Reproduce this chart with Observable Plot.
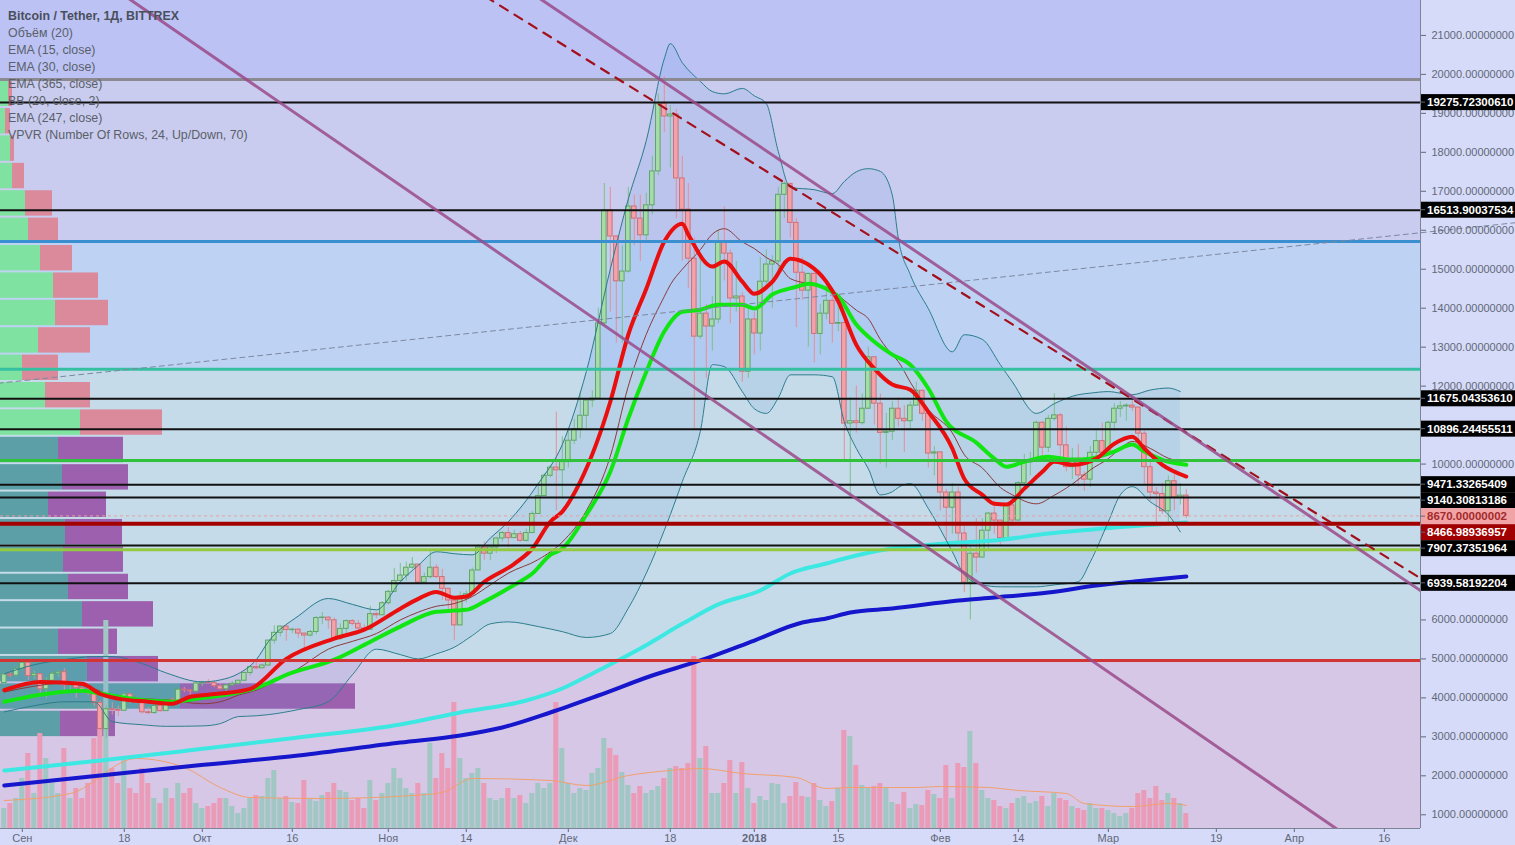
<!DOCTYPE html>
<html><head><meta charset="utf-8">
<script src="https://cdn.jsdelivr.net/npm/d3@7"></script>
<script src="https://cdn.jsdelivr.net/npm/@observablehq/plot@0.6"></script>
<style>
html,body{margin:0;padding:0;background:#d5dbf8;}
#wrap{position:relative;width:1515px;height:845px;overflow:hidden;background:#d5dbf8;}
#wrap svg{position:absolute;left:0;top:0;}
#legend{position:absolute;left:8px;top:8px;font-family:"Liberation Sans",Arial,sans-serif;font-size:12.4px;line-height:17px;color:#5a5f6a;white-space:nowrap;}
#legend .t{font-weight:bold;color:#4a4f5c;}
</style></head><body><div id="wrap"></div>
<script>
// ---------- DATA ----------
const legendTitle = "Bitcoin / Tether, 1Д, BITTREX";
const legendItems = ["Объём (20)","EMA (15, close)","EMA (30, close)","EMA (365, close)","BB (20, close, 2)","EMA (247, close)","VPVR (Number Of Rows, 24, Up/Down, 70)"];

const candleStart = "2017-08-29";
const firstOpen = 4380;
const closes = [4600,4570,4740,
4900,4560,4610,4220,4440,4620,4660,4320,4340,4250,4200,4110,3870,3200,3710,3690,3670,4090,3920,3880,3630,3610,3790,3660,3950,3890,4210,4190,4160,4370,
4400,4380,4300,4220,4320,4360,4440,4640,4790,4760,4830,5470,5670,5830,5740,5750,5650,5600,5690,6050,6060,5990,5520,5770,5970,5900,5780,5750,6150,6120,6430,
6720,7000,7140,7340,7420,6960,7100,7340,7100,6800,6500,5860,6550,6660,7270,7860,7700,7860,8090,8230,8100,8200,8030,8230,8720,9180,9700,9910,9840,10050,
10600,10900,11240,11630,11680,13610,16510,15840,14690,14940,16610,16300,15870,16640,17510,19250,18920,18970,17330,16530,15270,13270,13860,13530,13710,15710,15400,14250,14300,12370,13710,
13350,14680,15120,15200,16910,17190,16190,14910,14450,14880,13340,13860,14190,13600,13620,11040,11100,11050,11420,12740,11550,10800,10830,11420,11160,11100,11500,11880,11290,10270,10300,
9270,8880,9270,8220,6960,7700,7600,8290,8730,8550,8100,8940,8550,9510,10040,10100,11060,10420,11160,11250,10480,9920,10140,9710,9600,10290,10590,10290,
11060,11420,11480,11500,11450,10780,9920,9270,9230,8790,9560,9140,9190,8670];
const highs = [4640,4650,4760,
4960,4930,4690,4610,4520,4650,4700,4750,4390,4340,4330,4350,4130,3920,3800,3880,3790,4120,4100,4010,3900,3750,3820,3790,3970,3990,4230,4270,4210,4380,
4420,4470,4430,4340,4360,4420,4460,4650,4810,4920,4870,5480,5850,5850,5850,5790,5780,5660,5730,6080,6190,6080,6050,5900,6000,6010,5990,5870,6350,6200,6470,
6760,7320,7450,7480,7600,7420,7200,7800,7420,7300,6800,6500,6720,6740,7330,7930,8000,7880,8120,8270,8370,8300,8270,8330,8780,9520,9750,9970,11330,10700,
10900,11150,11850,11650,11880,14000,17200,17100,15850,15600,17100,16900,16900,16950,17900,19500,19950,19200,19100,17900,17200,15800,15300,14100,14300,16000,16600,15500,15200,14400,14000,
13900,15300,15500,15350,17100,17250,17200,16300,15300,14900,14900,14100,14600,14400,14300,13700,11700,12000,11800,13000,12750,11800,11300,11600,11700,11500,11600,12100,11900,11300,10450,
10300,9350,9500,9400,8400,7900,8600,8600,8750,9050,8550,8990,8950,9550,10250,10300,11100,11100,11250,11800,11300,10950,10400,10500,9800,10450,10850,11050,
11100,11550,11600,11550,11700,11450,10850,10050,9400,9500,9700,9800,9500,9350];
const lows = [4330,4520,4560,
4700,4450,4480,4100,3980,4420,4530,4150,4200,3980,4120,4060,3780,3150,2960,3560,3520,3660,3850,3850,3580,3560,3580,3630,3650,3860,3880,4130,4030,4150,
4290,4370,4260,4200,4150,4310,4330,4430,4560,4720,4750,4820,5380,5570,5450,5650,5530,5200,5560,5620,5880,5760,5460,5470,5600,5850,5750,5700,5730,6030,6110,
6380,6700,7000,7000,7300,6940,6960,7050,7060,6500,6250,5470,5850,6440,6650,7260,7530,7520,7700,8000,7850,8090,8000,8000,8210,8730,9180,9650,8800,9100,
9900,10500,10650,10900,11450,11670,13550,13900,13100,13100,14900,15600,15200,15700,16400,17400,18500,17600,16300,15200,14500,10900,13200,12200,12900,13600,14700,13600,13900,12100,12200,
12800,12900,14500,14000,14900,16300,15800,13500,14200,13000,12600,12800,13700,13100,13400,10100,9200,10800,11000,11400,11000,10000,9900,10600,10950,10300,10900,11500,11100,9900,9700,
8800,7900,8200,7950,6700,6000,7200,7600,7800,8200,7900,8100,8400,8550,9400,9700,10050,10150,10300,11100,10200,9800,9600,9400,9300,9400,10150,10250,
10250,10850,11200,11100,11350,10600,9450,9050,8400,8700,8500,8800,8950,8600];
const volumes = [20,25,30,
50,75,35,95,70,45,35,80,30,40,30,45,90,100,208,60,45,70,40,35,60,45,30,25,40,30,45,35,40,25,
20,22,25,30,30,22,15,20,30,33,32,50,58,30,32,26,25,48,30,27,33,36,45,38,36,28,30,20,48,28,35,
45,60,50,40,35,45,35,85,50,75,60,126,70,50,55,60,45,30,28,30,40,30,33,25,35,45,40,45,126,80,
45,35,40,38,55,60,90,80,73,56,43,35,42,35,38,42,50,60,62,60,65,172,70,82,35,35,45,68,35,66,40,
25,32,28,45,44,25,32,46,32,31,45,28,22,27,40,98,92,63,43,40,42,45,40,26,24,36,20,24,23,38,34,
30,63,30,65,61,97,65,38,30,28,22,20,25,30,32,25,27,32,22,35,30,28,22,20,18,25,20,20,
18,15,12,15,20,35,38,30,42,28,35,30,25,15];

const volMaDates = ["2017-08-29","2017-09-09","2017-09-20","2017-09-28","2017-10-04","2017-10-09","2017-10-21","2017-11-05","2017-11-10","2017-11-15","2017-11-28","2017-12-04","2017-12-11","2017-12-18","2017-12-23","2017-12-30","2018-01-08","2018-01-13","2018-01-17","2018-01-28","2018-02-01","2018-02-09","2018-02-14","2018-02-22","2018-02-25","2018-03-05","2018-03-11","2018-03-14"];
const volMaValues = [28,35,70,61,41,31,30,33,36,50,48,43,53,58,60,55,51,40,41,41,42,41,38,35,25,22,25,23];

const ema15Dates = ["2017-08-29","2017-09-04","2017-09-11","2017-09-14","2017-09-17","2017-09-22","2017-09-26","2017-09-29","2017-10-04","2017-10-09","2017-10-15","2017-10-23","2017-10-28","2017-11-03","2017-11-06","2017-11-09","2017-11-12","2017-11-14","2017-11-17","2017-11-22","2017-11-25","2017-11-28","2017-11-30","2017-12-03","2017-12-08","2017-12-11","2017-12-14","2017-12-17","2017-12-20","2017-12-21","2017-12-25","2017-12-27","2017-12-30","2018-01-01","2018-01-04","2018-01-07","2018-01-10","2018-01-13","2018-01-15","2018-01-18","2018-01-21","2018-01-24","2018-01-27","2018-01-30","2018-02-03","2018-02-05","2018-02-08","2018-02-10","2018-02-12","2018-02-15","2018-02-18","2018-02-20","2018-02-23","2018-02-27","2018-03-02","2018-03-05","2018-03-07","2018-03-10","2018-03-14"];
const ema15Values = [4200,4410,4360,4100,3980,3900,3850,4030,4110,4230,5000,5520,5750,6290,6540,6720,6570,6600,6980,7440,7830,8520,8780,9550,11600,13320,14500,15710,16170,15890,15070,15200,14680,14370,14680,15270,15120,14680,14170,13060,12450,12040,11910,11340,10400,9620,9210,8980,8960,9370,9800,10060,9980,10140,10520,10700,10400,9980,9680];

const ema30Dates = ["2017-08-29","2017-09-04","2017-09-11","2017-09-14","2017-09-17","2017-09-22","2017-09-26","2017-09-30","2017-10-05","2017-10-09","2017-10-12","2017-10-15","2017-10-23","2017-10-28","2017-11-03","2017-11-09","2017-11-12","2017-11-14","2017-11-17","2017-11-22","2017-11-25","2017-11-28","2017-11-30","2017-12-04","2017-12-08","2017-12-11","2017-12-14","2017-12-17","2017-12-20","2017-12-23","2017-12-26","2017-12-30","2018-01-01","2018-01-04","2018-01-08","2018-01-10","2018-01-13","2018-01-15","2018-01-18","2018-01-21","2018-01-24","2018-01-27","2018-01-30","2018-02-02","2018-02-07","2018-02-10","2018-02-12","2018-02-15","2018-02-19","2018-02-23","2018-02-26","2018-03-02","2018-03-05","2018-03-07","2018-03-10","2018-03-14"];
const ema30Values = [3900,4080,4180,4110,4030,3930,3900,3980,4080,4210,4380,4590,4980,5360,5830,6210,6240,6260,6470,6900,7190,7670,7830,8700,9800,11170,12370,13400,13910,13960,14090,14090,13990,14350,14550,14630,14500,14300,13580,13140,12810,12550,11940,11090,10550,10140,9930,10060,10190,10110,10140,10320,10500,10320,10110,9980];

const ema365Dates = ["2017-08-29","2017-09-14","2017-09-30","2017-10-17","2017-11-03","2017-11-13","2017-11-24","2017-11-30","2017-12-06","2017-12-13","2017-12-20","2017-12-26","2018-01-02","2018-01-07","2018-01-13","2018-01-18","2018-01-24","2018-01-29","2018-02-04","2018-02-10","2018-02-19","2018-03-02","2018-03-14"];
const ema365Values = [2136,2393,2675,2983,3317,3625,3933,4241,4703,5267,5900,6400,6756,7192,7448,7654,7833,7910,7987,8039,8218,8372,8501];

const ema247Dates = ["2017-08-29","2017-09-14","2017-09-30","2017-10-17","2017-11-03","2017-11-13","2017-11-20","2017-11-28","2017-12-06","2017-12-15","2017-12-23","2018-01-01","2018-01-09","2018-01-13","2018-01-17","2018-01-24","2018-02-04","2018-02-10","2018-02-19","2018-02-27","2018-03-07","2018-03-14"];
const ema247Values = [1751,2008,2265,2521,2855,3035,3240,3625,4061,4574,4960,5472,5934,6037,6191,6294,6499,6576,6704,6884,7012,7115];

const bbDates = ["2017-08-29","2017-09-03","2017-09-08","2017-09-13","2017-09-16","2017-09-21","2017-09-25","2017-10-01","2017-10-04","2017-10-07","2017-10-10","2017-10-12","2017-10-17","2017-10-22","2017-10-26","2017-10-30","2017-11-03","2017-11-06","2017-11-09","2017-11-12","2017-11-15","2017-11-18","2017-11-21","2017-11-26","2017-11-30","2017-12-04","2017-12-08","2017-12-11","2017-12-14","2017-12-17","2017-12-18","2017-12-20","2017-12-23","2017-12-25","2017-12-27","2017-12-30","2018-01-01","2018-01-03","2018-01-05","2018-01-07","2018-01-11","2018-01-14","2018-01-16","2018-01-18","2018-01-20","2018-01-22","2018-01-24","2018-01-25","2018-01-27","2018-01-30","2018-02-03","2018-02-05","2018-02-08","2018-02-11","2018-02-13","2018-02-17","2018-02-20","2018-02-24","2018-02-26","2018-03-01","2018-03-03","2018-03-05","2018-03-08","2018-03-11","2018-03-13"];
const bbUpper = [4620,4850,4980,5060,5060,4880,4640,4410,4460,4620,4980,5440,6100,6550,6400,6260,6980,7400,7750,7700,7670,8100,8520,9500,10500,12370,15000,16800,18300,20400,20790,20300,19820,19560,19500,19640,19450,19250,18020,17100,17040,16940,17250,17500,17580,17510,16900,15790,14860,13990,12880,13320,13200,12550,12110,11300,11550,11780,11820,11860,11820,11780,11900,11950,11860];
const bbBasis = [4150,4300,4380,4230,4050,3980,3950,3850,3900,4070,4200,4340,4750,5250,5450,5650,6000,6200,6350,6420,6600,6900,7200,7550,8000,8800,10200,12000,13330,14300,14600,15000,15500,15900,16040,15700,15530,15300,15120,14760,14600,14450,14200,13950,13730,13200,12800,12630,12100,11400,10800,10240,9900,9400,9210,8980,9200,9600,9850,10140,10400,10580,10400,10150,10060];
const bbLower = [3640,3800,3900,3900,3390,3310,3270,3280,3340,3520,3540,3570,3700,3900,4590,5250,5110,5000,5130,5300,5600,5900,5950,5830,5700,5550,5650,6300,7200,8300,8700,9550,10840,12550,12500,11860,11420,11300,11700,12290,12290,12240,11090,10400,9880,9210,9290,9400,9500,8860,7750,7160,6900,6850,6850,6850,6900,6980,7490,8520,9210,9420,9030,8700,8260];

// VPVR: 24 rows from bottom to top
const vpvrLow = 2980, vpvrHigh = 19852, vpvrRows = 24, vpvrValueAreaRows = 11;
const vpvrUp =   [60,180,87,58,82,68,63,65,48,62,58,80,45,22,38,55,53,40,28,25,12,10,5,8];
const vpvrDown = [55,175,71,59,71,60,60,57,58,66,65,82,45,36,52,53,45,32,30,27,12,4,5,4];

// colored background zones (price bounds)
const zoneLow =   [648, 4960, 12430, 15712, 19868];
const zoneHigh =  [4960, 12430, 15712, 19868, 21896];
const zoneColor = ["#d6c7e6", "#c5dbe9", "#bed3f4", "#c9ccee", "#bcc3f4"];

// horizontal drawings
const hlineValues = [19868, 19275.72300610, 16513.90037534, 15712, 12430, 11675.04353610, 10896.24455511, 10090, 9471.33265409, 9140.30813186, 8466.98936957, 7907.37351964, 7800, 6939.58192204, 4960];
const hlineColors = ["#8a8a90","#111111","#111111","#3a8fd0","#36c0a2","#111111","#111111","#2fc23a","#111111","#111111","#a30000","#111111","#93c940","#111111","#d23434"];
const hlineWidths = [3,2,2,3,3,2,2,3,2,2,4,2,3,2,3];
const currentPrice = 8670.00000002;

// price labels on the right scale
const labelValues = [19275.72300610, 16513.90037534, 11675.04353610, 10896.24455511, 9471.33265409, 9140.30813186, 8670.00000002, 8466.98936957, 7907.37351964, 6939.58192204];
const labelTexts = ["19275.72300610","16513.90037534","11675.04353610","10896.24455511","9471.33265409","9140.30813186","8670.00000002","8466.98936957","7907.37351964","6939.58192204"];
const labelBoxColors = ["#000","#000","#000","#000","#000","#000","#f2a3a6","#a00000","#000","#000"];
const labelTextColors = ["#fff","#fff","#fff","#fff","#fff","#fff","#a32a2a","#fff","#fff","#fff"];

// diagonal drawings (two anchor points each)
const channelLowerDates = ["2017-09-18","2018-04-12"], channelLowerValues = [22023, 221];
const channelUpperDates = ["2017-11-20","2018-04-25"], channelUpperValues = [22592, 6446];
const trendDashDates = ["2017-11-10","2018-04-25"], trendDashValues = [22687, 6785];
const grayDashDates = ["2017-08-25","2018-05-08"], grayDashValues = [12025, 16196];

// axes
const yTicks = [1000,2000,3000,4000,5000,6000,7000,8000,9000,10000,11000,12000,13000,14000,15000,16000,17000,18000,19000,20000,21000];
const xTickDates = ["2017-09-01","2017-09-18","2017-10-01","2017-10-16","2017-11-01","2017-11-14","2017-12-01","2017-12-18","2018-01-01","2018-01-15","2018-02-01","2018-02-14","2018-03-01","2018-03-19","2018-04-01","2018-04-16"];
const xTickLabels = ["Сен","18","Окт","16","Ноя","14","Дек","18","2018","15","Фев","14","Мар","19","Апр","16"];

// ---------- BUILD ----------
const DAY = 864e5;
const t0 = new Date(candleStart).getTime();
const candles = closes.map((c, i) => {
  const o = i === 0 ? firstOpen : closes[i - 1];
  return {date: new Date(t0 + i * DAY), open: o, close: c, high: highs[i], low: lows[i], vol: volumes[i], up: c >= o};
});
const series = (ds, vs) => ds.map((d, i) => ({date: new Date(d), v: vs[i]}));
const bb = bbDates.map((d, i) => ({date: new Date(d), upper: bbUpper[i], basis: bbBasis[i], lower: bbLower[i]}));
const zones = zoneLow.map((l, i) => ({lo: l, hi: zoneHigh[i], color: zoneColor[i]}));
const hlines = hlineValues.map((v, i) => ({v, color: hlineColors[i], w: hlineWidths[i]}));
const vpStep = (vpvrHigh - vpvrLow) / vpvrRows;
const vp = vpvrUp.map((u, i) => ({lo: vpvrLow + i * vpStep, hi: vpvrLow + (i + 1) * vpStep, up: u, down: vpvrDown[i], va: i < vpvrValueAreaRows}));
const xTicks = xTickDates.map(d => new Date(d));
const xLabelMap = new Map(xTicks.map((d, i) => [+d, xTickLabels[i]]));

const xStart = new Date(Date.UTC(2017, 7, 28, 8, 48));
const xEnd = new Date(Date.UTC(2018, 3, 22, 0, 43));
const yDomain = [648, 21896];
const plotFrame = {width: 1515, height: 845, marginLeft: 0, marginRight: 95, marginTop: 0, marginBottom: 17,
  style: {background: "transparent", fontFamily: "Liberation Sans, Arial, sans-serif", fontSize: "11px", overflow: "visible"}};
const X = {type: "utc", domain: [xStart, xEnd], axis: null};
const Y = {domain: yDomain, axis: null};
const C = {type: "identity"};
const wrapEl = document.getElementById("wrap");

// layer 1: background zones
wrapEl.append(Plot.plot({...plotFrame, x: X, y: Y, color: C, marks: [
  Plot.rect(zones, {x1: () => xStart, x2: () => xEnd, y1: "lo", y2: "hi", fill: "color"})
]}));

// layer 2: VPVR
wrapEl.append(Plot.plot({...plotFrame, x: {domain: [0, 1420], axis: null}, y: Y, color: C, marks: [
  Plot.rect(vp, {x1: 0, x2: "up", y1: "lo", y2: "hi", insetTop: 1, insetBottom: 1, fill: d => d.va ? "#5c9fa7" : "#7fe2a1"}),
  Plot.rect(vp, {x1: "up", x2: d => d.up + d.down, y1: "lo", y2: "hi", insetTop: 1, insetBottom: 1, fill: d => d.va ? "#9d60ae" : "#db8a9c"})
]}));

// layer 3: volume
wrapEl.append(Plot.plot({...plotFrame, x: X, y: {domain: [0, 828], axis: null}, color: C, marks: [
  Plot.rect(candles, {x1: d => new Date(+d.date - 0.42 * DAY), x2: d => new Date(+d.date + 0.42 * DAY), y1: 0, y2: "vol",
    fill: d => d.up ? "#a0c7c3" : "#e99bb7"}),
  Plot.line(series(volMaDates, volMaValues), {x: "date", y: "v", stroke: "#f2a06c", strokeWidth: 1, curve: "monotone-x"})
]}));

// layer 4: price
const priceSvg = Plot.plot({...plotFrame, x: X, y: Y, color: C, marks: [
  Plot.areaY(bb, {x: "date", y1: "lower", y2: "upper", fill: "#5d8fe0", fillOpacity: 0.13, curve: "monotone-x"}),
  Plot.ruleX(candles, {x: "date", y1: "low", y2: "high", stroke: d => d.up ? "#7cc08a" : "#e58f98", strokeWidth: 1}),
  Plot.rect(candles, {x1: d => new Date(+d.date - 0.38 * DAY), x2: d => new Date(+d.date + 0.38 * DAY), y1: "open", y2: "close",
    fill: d => d.up ? "#a6dca8" : "#f2a2a8", stroke: d => d.up ? "#5fa56a" : "#d0707a", strokeWidth: 1}),
  Plot.line(series(ema247Dates, ema247Values), {x: "date", y: "v", stroke: "#1616cc", strokeWidth: 4, curve: "monotone-x"}),
  Plot.line(series(ema365Dates, ema365Values), {x: "date", y: "v", stroke: "#3de8e2", strokeWidth: 4, curve: "monotone-x"}),
  Plot.line(bb, {x: "date", y: "upper", stroke: "#2b7d8c", strokeWidth: 1, curve: "monotone-x"}),
  Plot.line(bb, {x: "date", y: "lower", stroke: "#2b7d8c", strokeWidth: 1, curve: "monotone-x"}),
  Plot.line(bb, {x: "date", y: "basis", stroke: "#8a3b3b", strokeWidth: 1, curve: "monotone-x"}),
  Plot.line(series(ema30Dates, ema30Values), {x: "date", y: "v", stroke: "#12e612", strokeWidth: 4, curve: "monotone-x"}),
  Plot.line(series(ema15Dates, ema15Values), {x: "date", y: "v", stroke: "#ea0f0f", strokeWidth: 4, curve: "monotone-x"}),
  Plot.ruleY(hlines, {y: "v", stroke: "color", strokeWidth: "w"}),
  Plot.ruleY([currentPrice], {stroke: "#e8a0a0", strokeWidth: 1, strokeDasharray: "3,3"}),
  Plot.line(series(grayDashDates, grayDashValues), {x: "date", y: "v", stroke: "#7c88a0", strokeWidth: 1, strokeDasharray: "5,4"}),
  Plot.line(series(trendDashDates, trendDashValues), {x: "date", y: "v", stroke: "#a3101c", strokeWidth: 2.2, strokeDasharray: "9,8", clip: true}),
  Plot.line(series(channelLowerDates, channelLowerValues), {x: "date", y: "v", stroke: "#9a4a8a", strokeOpacity: 0.85, strokeWidth: 3, clip: true}),
  Plot.line(series(channelUpperDates, channelUpperValues), {x: "date", y: "v", stroke: "#9a4a8a", strokeOpacity: 0.85, strokeWidth: 3, clip: true}),
  Plot.axisY({ticks: yTicks, anchor: "right", tickSize: 5, tickPadding: 6, tickFormat: d => d.toFixed(8), color: "#636878", fontSize: 11}),
  Plot.axisX({ticks: xTicks, anchor: "bottom", tickSize: 4, tickPadding: 2, tickFormat: d => xLabelMap.get(+d), color: "#636878", fontSize: 11})
]});
wrapEl.append(priceSvg);

// post: borders, bold year, price labels
const sel = d3.select(priceSvg);
sel.selectAll("text").filter(function() { return this.textContent === "2018"; }).attr("font-weight", "bold");
sel.append("line").attr("x1", 1420.5).attr("x2", 1420.5).attr("y1", 0).attr("y2", 828).attr("stroke", "#7d8396");
sel.append("line").attr("x1", 0).attr("x2", 1420).attr("y1", 828.5).attr("y2", 828.5).attr("stroke", "#7d8396");
const yScale = priceSvg.scale("y");
const labs = labelValues.map((v, i) => ({y: yScale.apply(v), t: labelTexts[i], box: labelBoxColors[i], col: labelTextColors[i]})).sort((a, b) => a.y - b.y);
for (let i = 1; i < labs.length; i++) if (labs[i].y < labs[i - 1].y + 16) labs[i].y = labs[i - 1].y + 16;
// hide scale tick texts that sit under a price label box (as the reference does)
sel.selectAll("text").filter(function() {
  const t = this.textContent;
  if (!/^\d+\.0{8}$/.test(t)) return false;
  const ty = yScale.apply(parseFloat(t));
  return labs.some(l => Math.abs(l.y - ty) < 8);
}).remove();
const labG = sel.append("g").attr("text-anchor", "start");
for (const l of labs) {
  labG.append("rect").attr("x", 1421).attr("y", l.y - 8).attr("width", 94).attr("height", 16).attr("fill", l.box);
  labG.append("line").attr("x1", 1420).attr("x2", 1425).attr("y1", l.y).attr("y2", l.y).attr("stroke", "#636878");
  labG.append("text").attr("x", 1427).attr("y", l.y + 4).attr("text-anchor", "start").attr("fill", l.col)
    .attr("font-weight", "bold").attr("font-size", 11.5).text(l.t);
}

// legend
const lg = document.createElement("div");
lg.id = "legend";
lg.innerHTML = `<div class="t">${legendTitle}</div>` + legendItems.map(t => `<div>${t}</div>`).join("");
wrapEl.append(lg);
</script></body></html>
